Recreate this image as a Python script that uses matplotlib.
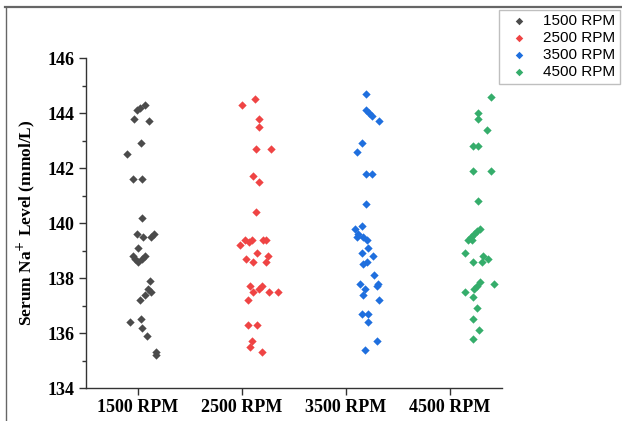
import matplotlib
matplotlib.use("Agg")
import matplotlib.pyplot as plt
from matplotlib.lines import Line2D
from matplotlib.ticker import MultipleLocator

groups = ["1500 RPM", "2500 RPM", "3500 RPM", "4500 RPM"]
colors = ["#4b4b4b", "#ef4444", "#1f6fde", "#35ad6b"]

# serum Na+ values (mmol/L), with their horizontal jitter
na_1500 = [144.3, 144.2, 144.1, 143.8, 143.7, 142.9, 142.5, 141.6, 141.6, 140.2,
           139.6, 139.5, 139.5, 139.6, 139.1, 138.8, 138.7, 138.7, 138.8, 138.6,
           137.9, 137.6, 137.5, 137.4, 137.2, 136.4, 136.5, 136.2, 135.9, 135.3, 135.2]
jit_1500 = [0.07, 0.02, -0.01, -0.04, 0.11, 0.03, -0.10, -0.05, 0.04, 0.04,
            -0.01, 0.05, 0.13, 0.16, 0.00, -0.05, 0.04, -0.03, 0.07, 0.00,
            0.12, 0.10, 0.13, 0.07, 0.02, -0.08, 0.03, 0.04, 0.09, 0.17, 0.17]

na_2500 = [144.5, 144.3, 143.8, 143.5, 142.7, 142.7, 141.7, 141.5, 140.4, 139.4,
           139.4, 139.4, 139.4, 139.2, 139.3, 138.7, 138.6, 138.9, 138.8, 138.6,
           137.7, 137.7, 137.5, 137.6, 137.5, 137.5, 137.2, 136.3, 136.3, 135.7,
           135.5, 135.3]
jit_2500 = [0.13, 0.00, 0.16, 0.16, 0.14, 0.28, 0.11, 0.16, 0.14, 0.03,
            0.10, 0.20, 0.23, -0.02, 0.07, 0.04, 0.11, 0.15, 0.25, 0.23,
            0.08, 0.19, 0.11, 0.16, 0.26, 0.35, 0.06, 0.06, 0.15, 0.10,
            0.08, 0.19]

na_3500 = [144.7, 144.1, 144.0, 143.9, 143.7, 142.9, 142.6, 141.8, 141.8, 140.7,
           139.8, 139.9, 139.6, 139.5, 139.4, 139.5, 139.1, 138.9, 138.8, 138.5,
           138.6, 138.1, 137.8, 137.8, 137.7, 137.6, 137.4, 137.2, 136.7, 136.7,
           136.4, 135.7, 135.4]
jit_3500 = [0.19, 0.19, 0.22, 0.25, 0.32, 0.15, 0.11, 0.19, 0.25, 0.19,
            0.09, 0.15, 0.12, 0.16, 0.20, 0.11, 0.21, 0.15, 0.26, 0.16,
            0.20, 0.27, 0.14, 0.31, 0.30, 0.18, 0.16, 0.32, 0.15, 0.21,
            0.21, 0.30, 0.18]

na_4500 = [144.6, 144.0, 143.8, 143.4, 142.8, 142.8, 141.9, 141.9, 140.8, 139.8,
           139.7, 139.6, 139.5, 139.4, 139.4, 138.9, 138.6, 138.8, 138.7, 138.6,
           137.85, 137.7, 137.6, 137.5, 137.8, 137.3, 136.9, 136.5, 136.1, 135.8]
jit_4500 = [0.39, 0.27, 0.27, 0.36, 0.22, 0.27, 0.22, 0.39, 0.27, 0.29,
            0.26, 0.23, 0.20, 0.17, 0.21, 0.14, 0.22, 0.32, 0.37, 0.31,
            0.29, 0.26, 0.23, 0.14, 0.42, 0.22, 0.26, 0.22, 0.28, 0.22]

values = [na_1500, na_2500, na_3500, na_4500]
jitters = [jit_1500, jit_2500, jit_3500, jit_4500]

serif = ["Liberation Serif", "DejaVu Serif"]
sans = ["Liberation Sans", "DejaVu Sans"]

fig = plt.figure(figsize=(6.22, 4.21), dpi=100)
ax = fig.add_axes([0.138, 0.078, 0.669, 0.784])

for i, (name, col) in enumerate(zip(groups, colors)):
    xs = [i + 1 + j for j in jitters[i]]
    ax.scatter(xs, values[i], marker="D", s=18, color=col, linewidths=0,
               label=name, zorder=3)

ax.set_xlim(0.5, 4.5)
ax.set_ylim(134, 146)
ax.set_xticks(range(1, 5))
ax.set_xticklabels(groups)
ax.yaxis.set_major_locator(MultipleLocator(2))
ax.yaxis.set_minor_locator(MultipleLocator(1))
ax.spines["top"].set_visible(False)
ax.spines["right"].set_visible(False)
for sp in ("left", "bottom"):
    ax.spines[sp].set_color("#333333")
    ax.spines[sp].set_linewidth(1.0)
ax.tick_params(axis="both", which="major", direction="out", length=5,
               color="#333333", width=1.0, pad=3)
ax.tick_params(axis="y", which="minor", direction="out", length=3,
               color="#333333", width=1.0)
ax.tick_params(axis="x", which="minor", bottom=False)
for lab in ax.get_xticklabels() + ax.get_yticklabels():
    lab.set_family(serif)
    lab.set_fontweight("bold")
    lab.set_fontsize(13)
ax.set_ylabel("Serum Na$^{+}$ Level (mmol/L)", family=serif, fontweight="bold",
              fontsize=12.5, labelpad=8)

leg = fig.legend(loc="upper right", bbox_to_anchor=(0.997, 0.977),
                 borderaxespad=0.0,
                 prop={"family": sans, "size": 11}, frameon=True, fancybox=False,
                 edgecolor="#b0b0b0", handletextpad=0.6, borderpad=0.3,
                 labelspacing=0.2, markerscale=0.9, handlelength=2.0)
leg.get_frame().set_linewidth(1.0)

# thin frame along the top and left of the picture
fig.add_artist(Line2D([0.008, 1.0], [0.984, 0.984], color="#666666", lw=1.6))
fig.add_artist(Line2D([0.009, 0.009], [0.0, 0.984], color="#666666", lw=1.0))

fig.savefig("out.png", dpi=100)
